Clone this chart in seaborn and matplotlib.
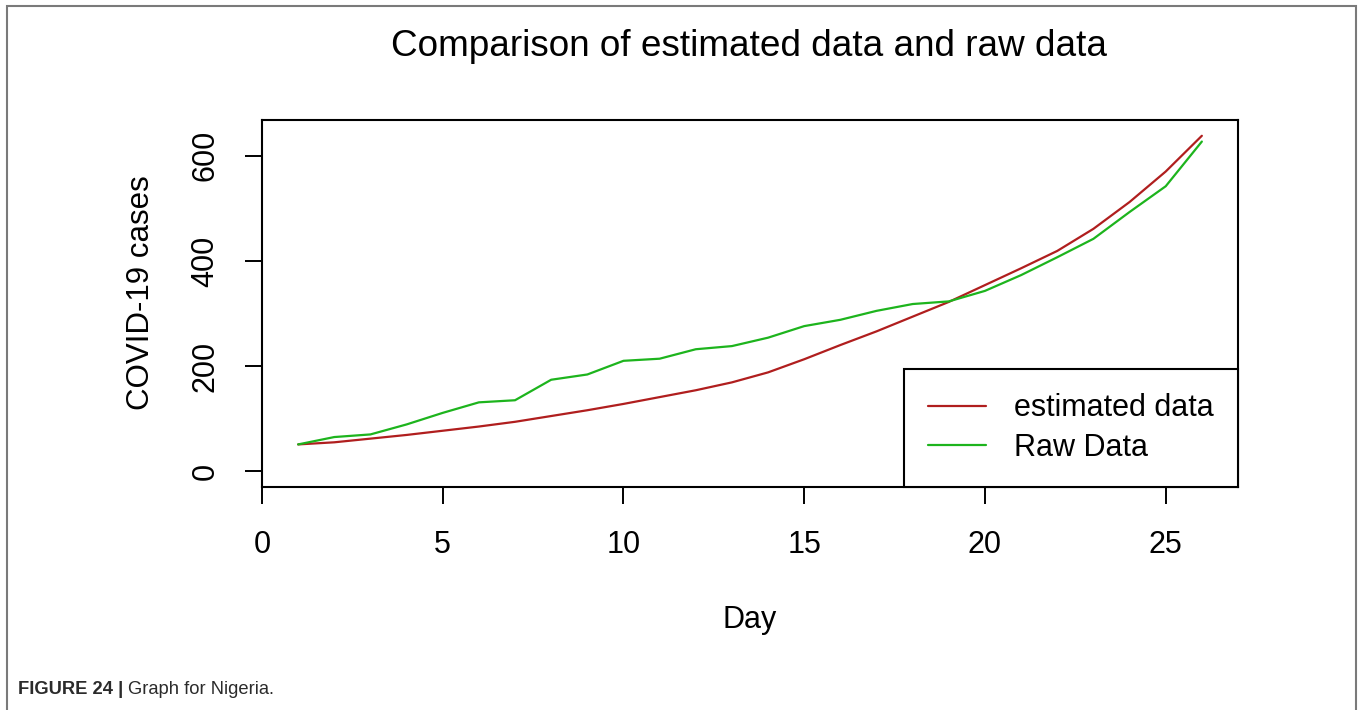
import numpy as np
import pandas as pd
import matplotlib
matplotlib.use("Agg")
import matplotlib.pyplot as plt
from matplotlib.patches import Rectangle
import seaborn as sns

# Daily cumulative COVID-19 cases, Nigeria
days = list(range(1, 27))
raw_cases = [51, 65, 70, 89, 111, 131, 135, 174, 184, 210, 214, 232, 238,
             254, 276, 288, 305, 318, 323, 343, 373, 407, 442, 493, 542, 627]
estimated_cases = [51, 55, 62, 69, 77, 85, 94, 105, 116, 128, 141, 154, 169,
                   188, 213, 240, 266, 294, 322, 354, 386, 419, 461, 512, 570, 638]

series_names = ["estimated data", "Raw Data"]
series_colors = {"estimated data": "#B01E1E", "Raw Data": "#1DB41D"}
x_ticks = [0, 5, 10, 15, 20, 25]
y_ticks = [0, 200, 400, 600]

df = pd.DataFrame({
    "Day": days * 2,
    "cases": estimated_cases + raw_cases,
    "series": [series_names[0]] * len(days) + [series_names[1]] * len(days),
})

sns.set_style("white")
plt.rcParams["font.family"] = ["Liberation Sans", "DejaVu Sans"]
plt.rcParams["text.color"] = "black"
plt.rcParams["axes.labelcolor"] = "black"

fig = plt.figure(figsize=(13.63, 7.10), dpi=100)
ax = fig.add_axes([262 / 1363, 1 - 487 / 710, (1238 - 262) / 1363, (487 - 120) / 710])

sns.lineplot(data=df, x="Day", y="cases", hue="series", hue_order=series_names,
             palette=series_colors, linewidth=1.6, legend=False, ax=ax)

ax.set_xlim(0, 27)
ax.set_ylim(-30, 668)
ax.set_xticks(x_ticks)
ax.set_yticks(y_ticks)
ax.tick_params(axis="both", which="major", bottom=True, left=True,
               direction="out", length=12, width=1.4,
               color="black", labelsize=22, labelcolor="black")
ax.tick_params(axis="x", pad=19)
ax.tick_params(axis="y", pad=18, labelrotation=90)
for lab in ax.get_yticklabels():
    lab.set_va("center")

for sp in ax.spines.values():
    sp.set_visible(True)
    sp.set_color("black")
    sp.set_linewidth(1.5)

ax.set_xlabel("Day", fontsize=22, color="black")
ax.set_ylabel("COVID-19 cases", fontsize=22.5, color="black")
ax.xaxis.set_label_coords(0.5, -0.362)
ax.xaxis.label.set_va("center")
ax.yaxis.set_label_coords(-0.124, 0.53)
ax.yaxis.label.set_va("center")

leg = ax.legend(ax.lines[:2], series_names, loc="lower right", borderaxespad=0,
                fontsize=22, frameon=True, fancybox=False, framealpha=1,
                edgecolor="black", handlelength=1.9, handletextpad=0.9,
                borderpad=0.8, labelspacing=0.3)
leg.get_frame().set_linewidth(1.5)
for t in leg.get_texts():
    t.set_color("black")

fig.text(749 / 1363, 1 - 46 / 710, "Comparison of estimated data and raw data",
         fontsize=26.6, ha="center", va="center", color="black")

# Page frame around the figure
fig.patches.append(Rectangle((7 / 1363, -0.05), (1356 - 7) / 1363, 1 - 6 / 710 + 0.05,
                             transform=fig.transFigure, fill=False,
                             edgecolor="#7a7a7a", linewidth=1.5))

# Caption: bold figure number followed by regular description
cap1 = fig.text(18 / 1363, 1 - 690 / 710, "FIGURE 24 | ", fontsize=13.2,
                fontweight="bold", color="#2b2b2b", va="center", ha="left")
fig.canvas.draw()
bb = cap1.get_window_extent(renderer=fig.canvas.get_renderer())
fig.text(bb.x1 / fig.bbox.width, 1 - 690 / 710, "Graph for Nigeria.", fontsize=13.2,
         color="#2b2b2b", va="center", ha="left")

fig.savefig("out.png", dpi=100)
